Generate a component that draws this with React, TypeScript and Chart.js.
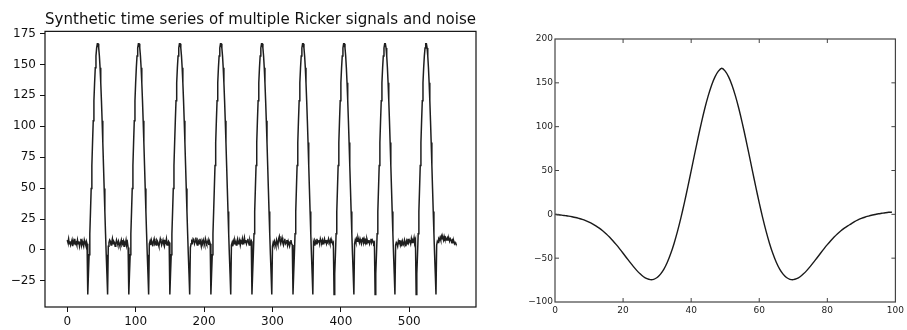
import React, { useEffect, useRef } from "react";
import { Chart, registerables } from "chart.js";

Chart.register(...registerables);

const FONT = '"DejaVu Sans", Verdana, sans-serif';

// ---------- Left chart data ----------
const TITLE = "Synthetic time series of multiple Ricker signals and noise";

// one Ricker pulse (30 samples)
const PULSE = [
  -36, -19.2, -3.8, 13.1, 31.0, 49.6, 68.3, 86.8, 104.4, 120.7,
  135.1, 147.3, 156.8, 163.3, 166.6, 166.6, 163.3, 156.8, 147.3, 135.1,
  120.7, 104.4, 86.8, 68.3, 49.6, 31.0, 13.1, -3.8, -19.2, -36,
];

// noise segments between pulses (30 samples each)
const NOISE_0 = [8, 6, 9, 5, 7, 4, 6, 8, 3, 7, 5, 9, 5, 6, 4, 8, 5, 7, 3, 6, 9, 4, 7, 5, 3, 8, 6, 4, 7, 5];
const NOISE_1 = [3, 6, 8, 7, 4, 6, 9, 5, 7, 6, 3, 5, 8, 6, 4, 7, 5, 3, 6, 8, 4, 5, 7, 3, 6, 5, 8, 4, 6, 2];
const NOISE_2 = [5, 7, 4, 8, 6, 3, 7, 9, 5, 6, 4, 8, 7, 5, 3, 6, 9, 7, 4, 6, 8, 5, 3, 7, 6, 9, 4, 5, 7, 6];
const NOISE_3 = [2, 5, 7, 6, 9, 8, 5, 7, 10, 6, 4, 8, 7, 5, 9, 6, 3, 7, 5, 8, 6, 4, 9, 7, 5, 6, 8, 4, 7, 5];
const NOISE_4 = [4, 6, 3, 7, 5, 8, 6, 4, 7, 9, 5, 6, 8, 4, 7, 6, 9, 5, 7, 10, 6, 8, 5, 7, 9, 6, 4, 8, 6, 7];
const NOISE_5 = [3, 6, 4, 7, 5, 3, 8, 6, 4, 9, 11, 7, 5, 8, 10, 6, 4, 7, 9, 5, 6, 8, 4, 7, 5, 3, 6, 8, 5, 4];
const NOISE_6 = [6, 4, 8, 7, 5, 9, 6, 7, 8, 5, 9, 7, 6, 8, 5, 7, 9, 6, 8, 5, 7, 6, 9, 7, 5, 8, 6, 7, 5, 6];
const NOISE_7 = [5, 8, 6, 9, 7, 10, 8, 6, 9, 7, 5, 8, 10, 6, 9, 7, 8, 5, 9, 7, 6, 8, 5, 7, 9, 6, 8, 7, 5, 6];
const NOISE_8 = [4, 6, 5, 3, 7, 5, 8, 4, 6, 3, 7, 5, 4, 8, 6, 3, 7, 5, 9, 6, 8, 7, 5, 9, 6, 8, 7, 10, 6, 8];
const NOISE_9 = [4, 7, 6, 9, 8, 10, 8, 11, 9, 10, 8, 11, 9, 10, 8, 9, 10, 8, 9, 7, 9, 8, 7, 8, 6, 7, 5, 6, 5, 4];

const NOISE_SEGMENTS = [
  NOISE_0, NOISE_1, NOISE_2, NOISE_3, NOISE_4,
  NOISE_5, NOISE_6, NOISE_7, NOISE_8, NOISE_9,
];

const LEFT_X_TICKS = [0, 100, 200, 300, 400, 500];
const LEFT_Y_TICKS = [-25, 0, 25, 50, 75, 100, 125, 150, 175];
const LEFT_X_MIN = -32.5;
const LEFT_X_MAX = 597.5;
const LEFT_Y_MIN = -46.1;
const LEFT_Y_MAX = 176.7;

// ---------- Right chart data ----------
const RIGHT_Y = [
  0, -0.4, -0.9, -1.5, -2.1, -2.8, -3.6, -4.6, -5.7, -7.1,
  -8.8, -10.8, -13.1, -15.7, -18.7, -22.1, -25.9, -30.1, -34.6, -39.4,
  -44.4, -49.5, -54.5, -59.4, -63.9, -67.9, -71.2, -73.4, -74.5, -74.1,
  -72.1, -68.2, -62.5, -54.7, -44.8, -32.9, -19.2, -3.8, 13.1, 31.0,
  49.6, 68.3, 86.8, 104.4, 120.7, 135.1, 147.3, 156.8, 163.3, 166.6,
  163.3, 156.8, 147.3, 135.1, 120.7, 104.4, 86.8, 68.3, 49.6, 31.0,
  13.1, -3.8, -19.2, -32.9, -44.8, -54.7, -62.5, -68.2, -72.1, -74.1,
  -74.5, -73.4, -71.2, -67.9, -63.9, -59.4, -54.5, -49.5, -44.4, -39.4,
  -34.6, -30.1, -25.9, -22.1, -18.7, -15.7, -13.1, -10.8, -8.3, -6.3,
  -4.7, -3.3, -2.1, -1.0, -0.2, 0.6, 1.2, 1.8, 2.3, 2.5,
];
const RIGHT_X_TICKS = [0, 20, 40, 60, 80, 100];
const RIGHT_Y_TICKS = [-100, -50, 0, 50, 100, 150, 200];

const fmt = (v: number) => (v < 0 ? "\u2212" + Math.abs(v) : String(v));

const framePlugin = {
  id: "frame",
  afterDatasetsDraw(chart: any, _args: any, opts: any) {
    const { ctx, chartArea: a } = chart;
    ctx.save();
    ctx.strokeStyle = opts.color || "#000";
    ctx.lineWidth = opts.width || 1;
    ctx.strokeRect(a.left, a.top, a.right - a.left, a.bottom - a.top);
    ctx.restore();
  },
};

const innerTicksPlugin = {
  id: "innerTicks",
  afterDatasetsDraw(chart: any, _args: any, opts: any) {
    if (!opts || !opts.enabled) return;
    const { ctx, chartArea: a } = chart;
    const len = opts.length || 4;
    ctx.save();
    ctx.strokeStyle = opts.color || "#000";
    ctx.lineWidth = 1;
    ctx.beginPath();
    chart.scales.x.ticks.forEach((t: any) => {
      const px = chart.scales.x.getPixelForValue(t.value);
      if (px <= a.left + 1 || px >= a.right - 1) return;
      ctx.moveTo(px, a.bottom);
      ctx.lineTo(px, a.bottom - len);
      ctx.moveTo(px, a.top);
      ctx.lineTo(px, a.top + len);
    });
    chart.scales.y.ticks.forEach((t: any) => {
      const py = chart.scales.y.getPixelForValue(t.value);
      if (py <= a.top + 1 || py >= a.bottom - 1) return;
      ctx.moveTo(a.left, py);
      ctx.lineTo(a.left + len, py);
      ctx.moveTo(a.right, py);
      ctx.lineTo(a.right - len, py);
    });
    ctx.stroke();
    ctx.restore();
  },
};

function LeftChart() {
  const ref = useRef<HTMLCanvasElement>(null);
  useEffect(() => {
    const series: { x: number; y: number }[] = [];
    let idx = 0;
    NOISE_SEGMENTS.forEach((seg, i) => {
      seg.forEach((v) => series.push({ x: idx++, y: v }));
      if (i < NOISE_SEGMENTS.length - 1) PULSE.forEach((v) => series.push({ x: idx++, y: v }));
    });
    const chart = new Chart(ref.current as HTMLCanvasElement, {
      type: "line",
      data: {
        datasets: [
          {
            data: series,
            borderColor: "#1e1e1e",
            borderWidth: 1.5,
            pointRadius: 0,
            tension: 0,
            fill: false,
          },
        ],
      },
      options: {
        responsive: false,
        animation: false,
        events: [],
        layout: { padding: { left: 0, right: 14, top: 0, bottom: 0 } },
        plugins: {
          legend: { display: false },
          tooltip: { enabled: false },
          title: {
            display: true,
            fullSize: false,
            text: TITLE,
            color: "#111",
            font: { family: FONT, size: 15.3, weight: "normal" },
            padding: { top: 11, bottom: 2 },
          },
          frame: { color: "#111", width: 1.2 },
        } as any,
        scales: {
          x: {
            type: "linear",
            min: LEFT_X_MIN,
            max: LEFT_X_MAX,
            afterBuildTicks: (s: any) => {
              s.ticks = LEFT_X_TICKS.map((v) => ({ value: v }));
            },
            afterFit: (s: any) => {
              s.height = 23;
            },
            grid: { display: true, drawOnChartArea: false, drawTicks: true, tickLength: 5, color: "#111" },
            border: { display: false },
            ticks: {
              font: { family: FONT, size: 12 },
              color: "#111",
              padding: 3,
              maxRotation: 0,
              autoSkip: false,
              callback: (v: any) => fmt(Number(v)),
            },
          },
          y: {
            type: "linear",
            min: LEFT_Y_MIN,
            max: LEFT_Y_MAX,
            afterBuildTicks: (s: any) => {
              s.ticks = LEFT_Y_TICKS.map((v) => ({ value: v }));
            },
            afterFit: (s: any) => {
              s.width = 45;
            },
            grid: { display: true, drawOnChartArea: false, drawTicks: true, tickLength: 5, color: "#111" },
            border: { display: false },
            ticks: {
              font: { family: FONT, size: 12 },
              color: "#111",
              padding: 4,
              autoSkip: false,
              callback: (v: any) => fmt(Number(v)),
            },
          },
        },
      },
      plugins: [framePlugin],
    } as any);
    return () => chart.destroy();
  }, []);
  return <canvas ref={ref} width={490} height={330} style={{ display: "block" }} />;
}

function RightChart() {
  const ref = useRef<HTMLCanvasElement>(null);
  useEffect(() => {
    const series = RIGHT_Y.map((y, x) => ({ x, y }));
    const chart = new Chart(ref.current as HTMLCanvasElement, {
      type: "line",
      data: {
        datasets: [
          {
            data: series,
            borderColor: "#1a1a1a",
            borderWidth: 1.4,
            pointRadius: 0,
            tension: 0.3,
            fill: false,
          },
        ],
      },
      options: {
        responsive: false,
        animation: false,
        events: [],
        layout: { padding: { left: 0, right: 7, top: 39, bottom: 0 } },
        plugins: {
          legend: { display: false },
          tooltip: { enabled: false },
          frame: { color: "#444", width: 1.2 },
          innerTicks: { enabled: true, length: 4, color: "#444" },
        } as any,
        scales: {
          x: {
            type: "linear",
            min: 0,
            max: 100,
            afterBuildTicks: (s: any) => {
              s.ticks = RIGHT_X_TICKS.map((v) => ({ value: v }));
            },
            afterFit: (s: any) => {
              s.height = 28;
            },
            grid: { display: false, drawTicks: false },
            border: { display: false },
            ticks: {
              font: { family: FONT, size: 9 },
              color: "#222",
              padding: 3,
              maxRotation: 0,
              autoSkip: false,
              callback: (v: any) => fmt(Number(v)),
            },
          },
          y: {
            type: "linear",
            min: -100,
            max: 200,
            afterBuildTicks: (s: any) => {
              s.ticks = RIGHT_Y_TICKS.map((v) => ({ value: v }));
            },
            afterFit: (s: any) => {
              s.width = 55;
            },
            grid: { display: false, drawTicks: false },
            border: { display: false },
            ticks: {
              font: { family: FONT, size: 9 },
              color: "#222",
              padding: 2,
              autoSkip: false,
              callback: (v: any) => fmt(Number(v)),
            },
          },
        },
      },
      plugins: [framePlugin, innerTicksPlugin],
    } as any);
    return () => chart.destroy();
  }, []);
  return <canvas ref={ref} width={407} height={330} style={{ display: "block" }} />;
}

export default function App() {
  return (
    <div style={{ position: "fixed", left: 0, top: 0, width: 907, height: 330, background: "#fff", overflow: "hidden" }}>
      <div style={{ position: "absolute", left: 0, top: 0 }}>
        <LeftChart />
      </div>
      <div style={{ position: "absolute", left: 500, top: 0 }}>
        <RightChart />
      </div>
    </div>
  );
}
